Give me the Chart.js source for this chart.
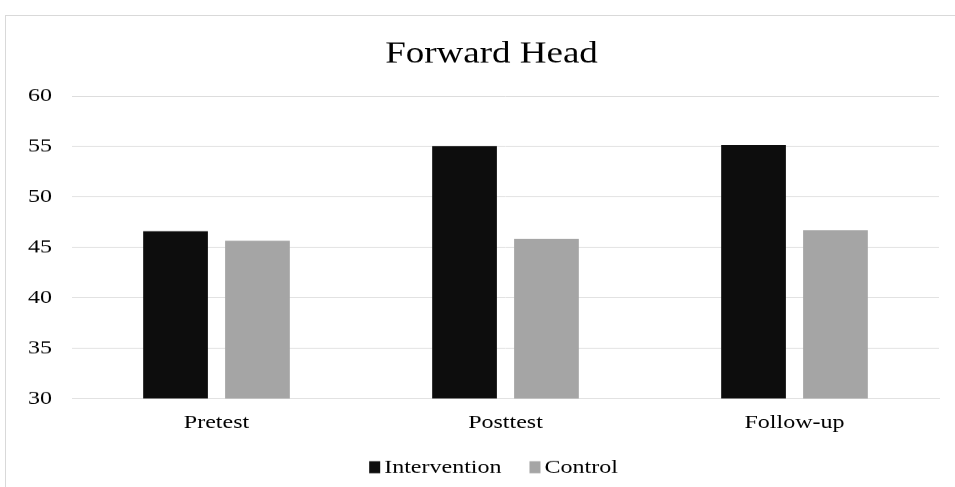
<!DOCTYPE html>
<html>
<head>
<meta charset="utf-8">
<script src="https://cdn.jsdelivr.net/npm/chart.js@4"></script>
<style>
  html, body { margin: 0; padding: 0; background: #ffffff; }
  #page { position: relative; width: 955px; height: 487px; overflow: hidden; background: #fff; }
  #frame { position: absolute; left: 5px; top: 15px; width: 1000px; height: 600px;
           border-left: 1px solid #d9d9d9; border-top: 1px solid #d9d9d9; }
  /* the chart is laid out tall and squeezed vertically, giving the wide serif lettering */
  #stage { position: absolute; left: 0; top: 0; width: 955px; height: 608.75px;
           transform: scaleY(0.8); transform-origin: 0 0; }
</style>
</head>
<body>
<div id="page">
  <div id="frame"></div>
  <div id="stage"><canvas id="chart"></canvas></div>
</div>
<script>
// Forward head measurements by group and time point
const categories = ["Pretest", "Posttest", "Follow-up"];
const interventionValues = [46.6, 55.05, 55.15];
const controlValues = [45.65, 45.85, 46.7];
const yTicks = [30, 35, 40, 45, 50, 55, 60];
const chartTitle = "Forward Head";

const serif = "'Liberation Serif', 'Times New Roman', serif";

// Title centred on the framed panel rather than on the plot
const panelTitle = {
  id: "panelTitle",
  afterDraw(chart, args, opts) {
    const ctx = chart.ctx;
    ctx.save();
    ctx.font = opts.size + "px " + serif;
    ctx.fillStyle = "#000000";
    ctx.textAlign = "center";
    ctx.textBaseline = "middle";
    ctx.fillText(opts.text, opts.centerX, opts.centerY);
    ctx.restore();
  }
};

// Compact legend row under the axis: square swatch, short gap, label
const bottomLegend = {
  id: "bottomLegend",
  afterDraw(chart, args, opts) {
    const ctx = chart.ctx;
    const items = chart.data.datasets.map(ds => ({ text: ds.label, color: ds.backgroundColor }));
    ctx.save();
    ctx.font = "24px " + serif;
    const widths = items.map(it => opts.boxWidth + opts.gap + ctx.measureText(it.text).width);
    const total = widths.reduce((a, b) => a + b, 0) + opts.spacing * (items.length - 1);
    let x = opts.centerX - total / 2;
    const y = opts.centerY;
    ctx.textBaseline = "middle";
    ctx.textAlign = "left";
    items.forEach((it, i) => {
      ctx.fillStyle = it.color;
      ctx.fillRect(x, y - opts.boxHeight / 2, opts.boxWidth, opts.boxHeight);
      ctx.fillStyle = "#000000";
      ctx.fillText(it.text, x + opts.boxWidth + opts.gap, y + 1);
      x += widths[i] + opts.spacing;
    });
    ctx.restore();
  }
};

new Chart(document.getElementById("chart"), {
  type: "bar",
  data: {
    labels: categories,
    datasets: [
      { label: "Intervention", data: interventionValues, backgroundColor: "#0d0d0d",
        categoryPercentage: 0.567, barPercentage: 0.79 },
      { label: "Control", data: controlValues, backgroundColor: "#a5a5a5",
        categoryPercentage: 0.567, barPercentage: 0.79 }
    ]
  },
  plugins: [panelTitle, bottomLegend],
  options: {
    responsive: true,
    maintainAspectRatio: false,
    animation: false,
    layout: { padding: { left: 25, right: 16, top: 120, bottom: 50.75 } },
    plugins: {
      title: { display: false },
      legend: { display: false },
      panelTitle: { text: chartTitle, size: 37, centerX: 491.5, centerY: 68 },
      bottomLegend: { centerX: 493.5, centerY: 583, boxWidth: 11, boxHeight: 15, gap: 4, spacing: 28 },
      tooltip: { enabled: false }
    },
    scales: {
      x: {
        grid: { display: false, drawTicks: false, tickLength: 0 },
        border: { display: true, color: "#d9d9d9" },
        ticks: { color: "#000000", font: { family: serif, size: 24 }, padding: 16 }
      },
      y: {
        min: 30,
        max: 60,
        afterBuildTicks: (axis) => { axis.ticks = yTicks.map(v => ({ value: v })); },
        afterFit: (axis) => { axis.width = 47; },
        grid: { color: "#d9d9d9", lineWidth: 1, drawTicks: false, tickLength: 0 },
        border: { display: false },
        ticks: { color: "#000000", font: { family: serif, size: 24 }, padding: 20 }
      }
    }
  }
});
</script>
</body>
</html>
